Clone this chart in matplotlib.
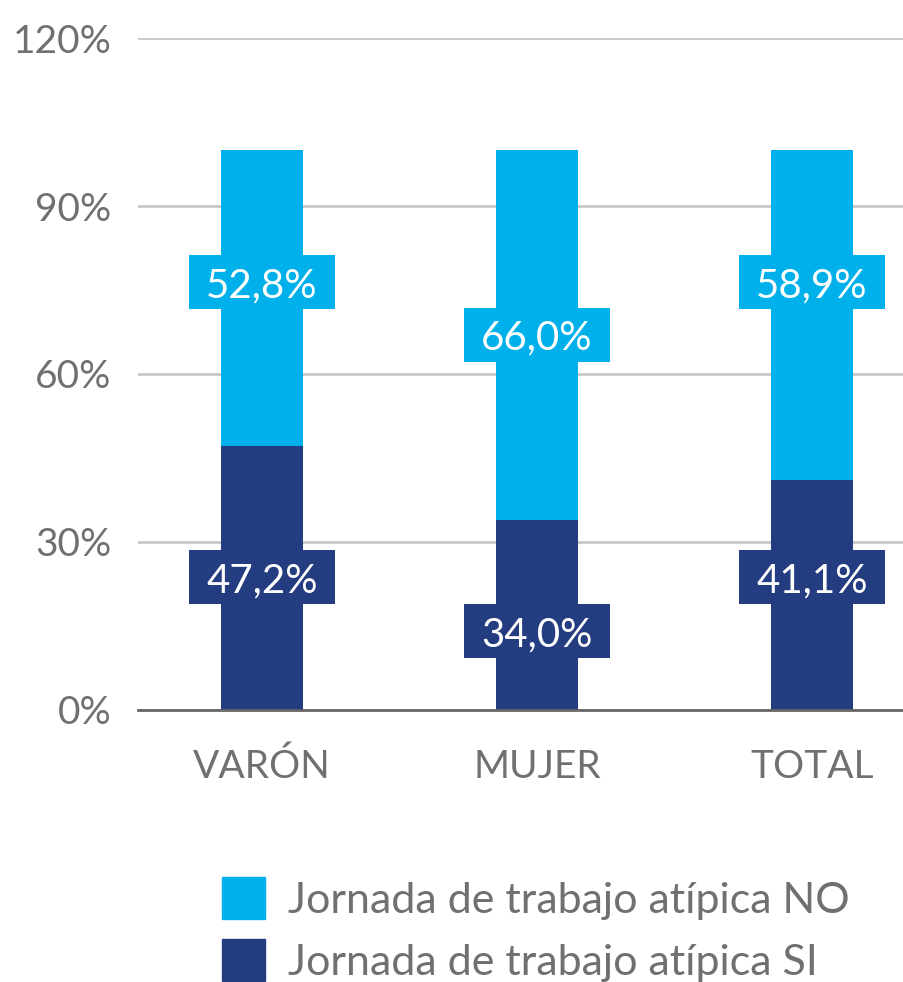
import numpy as np
import matplotlib
matplotlib.use('Agg')
import matplotlib.pyplot as plt
from matplotlib.patches import Rectangle

# Fonts
fnt = {'family' : ['Lato', 'DejaVu Sans'],
       'size'   : 28}
matplotlib.rc('font', **fnt)

# Data
categories = ['VARÓN', 'MUJER', 'TOTAL']
si_vals = [47.2, 34.0, 41.1]
no_vals = [52.8, 66.0, 58.9]
si_labels = ['47,2%', '34,0%', '41,1%']
no_labels = ['52,8%', '66,0%', '58,9%']
series_names = ['Jornada de trabajo atípica NO', 'Jornada de trabajo atípica SI']
yticks = [0, 30, 60, 90, 120]

# where the value boxes sit (in % units)
si_label_y = [23.75, 14.1, 23.75]
no_label_y = [76.4, 67.0, 76.4]

c_no = '#00B0EA'
c_si = '#243C80'
grey = '#707070'

F1 = plt.figure(figsize=(9.04, 9.82), dpi=100)
ax1 = F1.add_axes([138/904, 272/982, 766/904, 672/982])

x = np.arange(len(categories))
bw = 0.295
ax1.bar(x, si_vals, bw, color=c_si, zorder=3)
ax1.bar(x, no_vals, bw, bottom=si_vals, color=c_no, zorder=3)

# value boxes
boxw = 146/275.0
boxh = 54/5.6
for i in range(len(categories)):
    for yv, lab, col in ((si_label_y[i], si_labels[i], c_si), (no_label_y[i], no_labels[i], c_no)):
        ax1.add_patch(Rectangle((x[i]-boxw/2, yv-boxh/2), boxw, boxh, color=col, zorder=4, lw=0))
        ax1.text(x[i], yv, lab, color='white', ha='center', va='center_baseline', fontsize=29, zorder=5)

ax1.set_xlim(-124/275.0, 2 + 92/275.0)
ax1.set_ylim(0, 120)
ax1.set_yticks(yticks)
ax1.set_yticklabels(['{0}%'.format(v) for v in yticks], color=grey, fontsize=28)
ax1.set_xticks(x)
ax1.set_xticklabels(categories, color=grey, fontsize=28)
ax1.tick_params(axis='y', length=0, pad=19)
ax1.tick_params(axis='x', length=0, pad=28)
ax1.grid(axis='y', color='#C8C8C8', lw=2, zorder=0)
for s in ['top', 'right', 'left']:
    ax1.spines[s].set_visible(False)
ax1.spines['bottom'].set_color('#666666')
ax1.spines['bottom'].set_linewidth(2)
ax1.spines['bottom'].set_zorder(6)

# legend, drawn by hand
for k, (nm, col) in enumerate(zip(series_names, [c_no, c_si])):
    yc = 898 + k*62
    F1.add_artist(Rectangle((222/904, (982-yc-21)/982), 43/904, 42/982, color=col,
                            transform=F1.transFigure))
    F1.text(288/904, (982-yc)/982, nm, color=grey, ha='left', va='center_baseline', fontsize=31)

F1.savefig('out.png', dpi=100)
